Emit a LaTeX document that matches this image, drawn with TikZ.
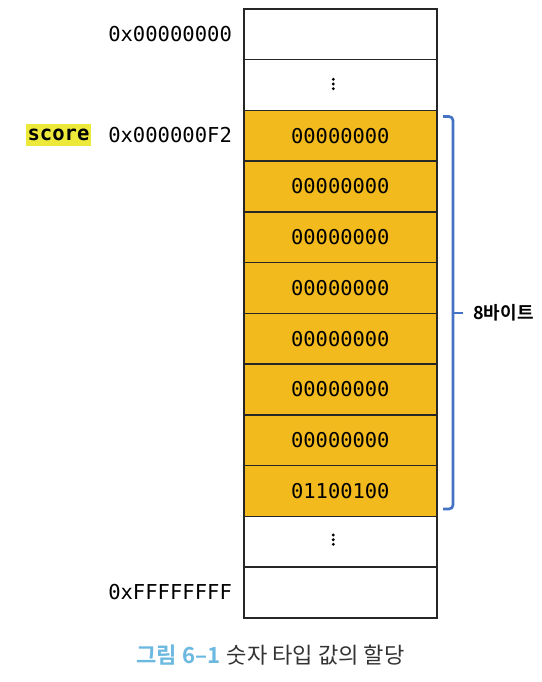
\documentclass[tikz,border=0pt]{standalone}
\usepackage{fontspec}
\setmonofont{DejaVu Sans Mono}
\newfontfamily\krfont{Noto Sans CJK KR}
\newfontfamily\krbold{Noto Sans CJK KR Bold}
\definecolor{cellfill}{HTML}{F3BA1E}
\definecolor{framegray}{HTML}{262626}
\definecolor{bracecol}{HTML}{4472C4}
\definecolor{hilite}{HTML}{EDE93A}
\definecolor{capblue}{HTML}{6BB8E0}
\definecolor{capgray}{HTML}{333333}
\tikzset{
  cell/.style={draw=framegray, line width=1.2pt, minimum width=193*0.75pt, minimum height=50.75*0.75pt, inner sep=0pt, anchor=north west, font=\ttfamily\fontsize{15.3}{15.3}\selectfont},
  bytecell/.style={cell, fill=cellfill},
  addr/.style={anchor=west, inner sep=0pt, font=\ttfamily\fontsize{15.4}{15.4}\selectfont},
  dotmark/.style={fill=black, draw=none},
}
\begin{document}
\begin{tikzpicture}[x=0.75pt,y=-0.75pt]
\useasboundingbox (0,0) rectangle (542,682);
% cells
\node[cell] (r1) at (243,8) {};
\node[cell] (r2) at (243,58.75) {};
\node[bytecell] (r3) at (243,109.5) {00000000};
\node[bytecell] (r4) at (243,160.25) {00000000};
\node[bytecell] (r5) at (243,211) {00000000};
\node[bytecell] (r6) at (243,261.75) {00000000};
\node[bytecell] (r7) at (243,312.5) {00000000};
\node[bytecell] (r8) at (243,363.25) {00000000};
\node[bytecell] (r9) at (243,414) {00000000};
\node[bytecell] (r10) at (243,464.75) {01100100};
\node[cell] (r11) at (243,515.5) {};
\node[cell] (r12) at (243,566.25) {};
% vertical dots
\foreach \yy in {79.3,84,88.7}{\fill[dotmark] (333.3,\yy) circle (1.6);}
\foreach \yy in {535,539.7,544.3}{\fill[dotmark] (333.3,\yy) circle (1.6);}
% addresses
\node[addr] (a1) at (108,34) {0x00000000};
\node[addr] (a2) at (108,135) {0x000000F2};
\node[addr] (a3) at (108,592) {0xFFFFFFFF};
% score label
\node[anchor=west, fill=hilite, inner xsep=1pt, inner ysep=3.5pt, font=\ttfamily\bfseries\fontsize{15.4}{15.4}\selectfont] (score) at (26,135) {score};
% brace
\draw[bracecol, line width=2pt, rounded corners=3pt] (443,116.5) -- (453,116.5) -- (453,509) -- (443,509);
\draw[bracecol, line width=2pt] (453,313) -- (463,313);
\coordinate (nub) at (463,313);
\node[anchor=west, inner sep=0pt, font=\krbold\fontsize{13.5}{13.5}\selectfont] (bytes) at (473,313) {8바이트};
% caption
\node[inner sep=0pt, font=\fontsize{16.6}{16.6}\selectfont] (cap) at (270.5,655) {{\krbold\color{capblue}그림 6–1} {\krfont\color{capgray}숫자 타입 값의 할당}};
\end{tikzpicture}
\end{document}
